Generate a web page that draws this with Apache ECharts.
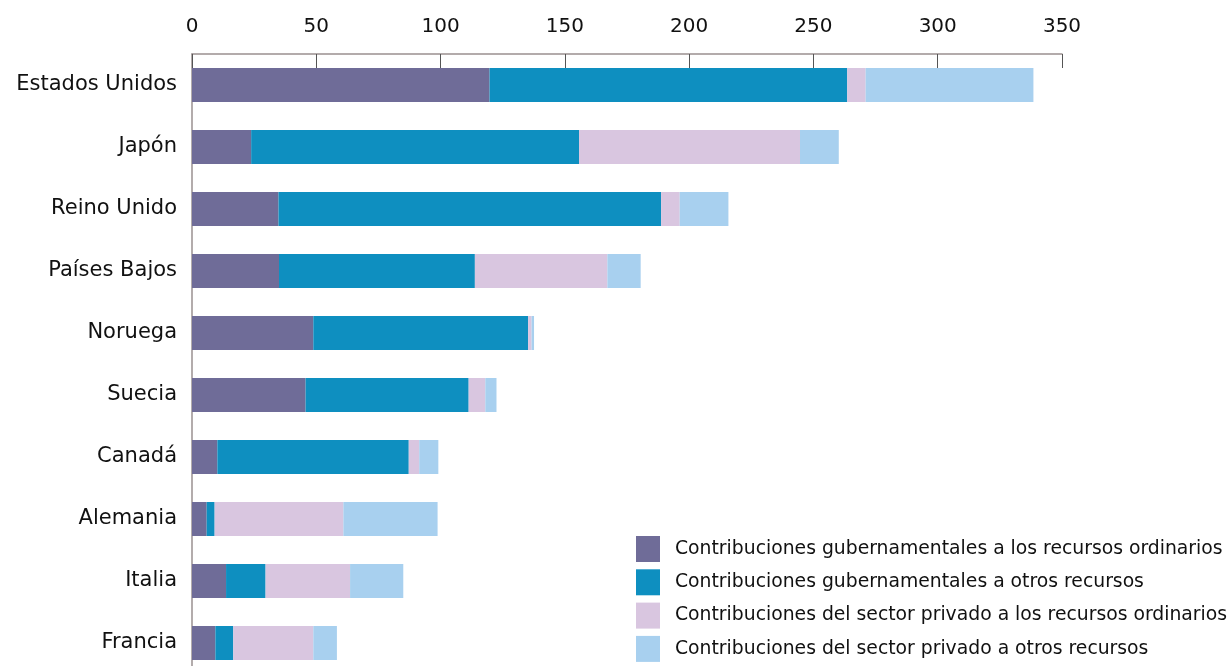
<!DOCTYPE html>
<html>
<head>
<meta charset="utf-8">
<script src="https://cdn.jsdelivr.net/npm/echarts@6/dist/echarts.min.js"></script>
<style>html,body{margin:0;padding:0;background:#fff;}#c{width:1230px;height:666px;}</style>
</head>
<body>
<div id="c"></div>
<script>
const categories = ["Estados Unidos","Japón","Reino Unido","Países Bajos","Noruega","Suecia","Canadá","Alemania","Italia","Francia"];
const seriesNames = [
  "Contribuciones gubernamentales a los recursos ordinarios",
  "Contribuciones gubernamentales a otros recursos",
  "Contribuciones del sector privado a los recursos ordinarios",
  "Contribuciones del sector privado a otros recursos"
];
const govRegular = [119.7, 23.8, 34.8, 35.0, 48.8, 45.7, 10.2, 5.9, 13.7, 9.4];
const govOther   = [143.9, 131.9, 153.9, 78.8, 86.4, 65.6, 77.0, 3.2, 15.9, 7.2];
const privRegular= [7.4, 88.9, 7.5, 53.3, 1.4, 6.7, 4.2, 51.8, 34.0, 32.2];
const privOther  = [67.5, 15.6, 19.6, 13.4, 1.0, 4.5, 7.7, 37.9, 21.4, 9.5];
const xTicks = [0, 50, 100, 150, 200, 250, 300, 350];

const colors = ["#6f6c98", "#0e8fc0", "#d9c6e0", "#a8d0ef"];
const dataSets = [govRegular, govOther, privRegular, privOther];
const font = "'DejaVu Sans', sans-serif";

const chart = echarts.init(document.getElementById('c'));
chart.setOption({
  animation: false,
  textStyle: { fontFamily: font },
  grid: { left: 192, right: 168, top: 54, height: 620, containLabel: false, outerBoundsMode: 'none' },
  legend: {
    orient: 'vertical',
    left: 636, top: 536, padding: 0, height: 200,
    itemWidth: 24, itemHeight: 26, itemGap: 7.3,
    icon: 'rect',
    textStyle: { fontSize: 18.8, color: '#111', fontFamily: font, padding: [0,0,0,10] },
    data: seriesNames
  },
  xAxis: {
    type: 'value', position: 'top',
    min: xTicks[0], max: xTicks[xTicks.length - 1], interval: 50,
    axisLine: { show: true, lineStyle: { color: '#9a9090', width: 1.5 } },
    axisTick: { show: true, inside: true, length: 14, lineStyle: { color: '#555' } },
    axisLabel: { fontSize: 20, color: '#111', margin: 17, fontFamily: font },
    splitLine: { show: false }
  },
  yAxis: {
    type: 'category', inverse: true, data: categories,
    axisLine: { show: true, lineStyle: { color: '#9a9090', width: 1.5 } },
    axisTick: { show: false },
    axisLabel: { fontSize: 21, color: '#111', margin: 15, fontFamily: font }
  },
  series: seriesNames.map((n, i) => ({
    name: n, type: 'bar', stack: 'total', barWidth: 34,
    itemStyle: { color: colors[i] },
    data: dataSets[i]
  }))
});
</script>
</body>
</html>
